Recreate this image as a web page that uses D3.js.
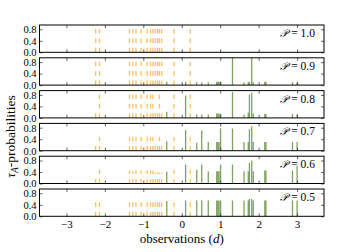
<!DOCTYPE html>
<html><head><meta charset="utf-8">
<script src="https://cdn.jsdelivr.net/npm/d3@7"></script>
<style>
html,body{margin:0;padding:0;background:#fff;}
svg{display:block;font-family:"Liberation Serif","DejaVu Serif",serif;}
</style></head>
<body><svg id="c" width="360" height="252"></svg>
<script>
// ---- data ----
const pValues = ["1.0", "0.9", "0.8", "0.7", "0.6", "0.5"];
const obsA = [-2.24, -2.14, -1.36, -1.27, -1.19, -1.06, -0.90, -0.81, -0.75, -0.69, -0.63, -0.58, -0.52, -0.20, 0.22];
const obsB = [-0.39, 0.10, 0.39, 0.52, 0.69, 0.91, 0.94, 0.97, 1.01, 1.32, 1.62, 1.73, 1.76, 1.82, 1.86, 2.16, 2.19, 2.88, 3.00];
const probA_10 = [0.95,0.95,0.95,0.95,0.95,0.95,0.95,0.95,0.95,0.95,0.95,0.95,0.95,0.95,0.95];
const probA_09 = [0.95,0.95,0.95,0.95,0.95,0.95,0.95,0.95,0.95,0.95,0.95,0.95,0.95,0.95,0.95];
const probA_08 = [0.20,0.90,0.85,0.85,0.85,0.85,0.85,0.85,0.85,0.30,0.30,0.85,0.20,0.85,0.90];
const probA_07 = [0.20,0.60,0.60,0.60,0.60,0.60,0.60,0.60,0.60,0.25,0.25,0.60,0.20,0.60,0.65];
const probA_06 = [0.33,0.50,0.45,0.42,0.45,0.45,0.45,0.45,0.45,0.38,0.38,0.38,0.38,0.50,0.50];
const probA_05 = [0.50,0.52,0.50,0.50,0.50,0.50,0.50,0.50,0.50,0.50,0.50,0.50,0.50,0.50,0.52];
const probB_10 = [0.02,0.01,0.01,0.01,0.01,0.01,0.01,0.01,0.01,0.01,0.01,0.01,0.01,0.01,0.01,0.01,0.01,0.01,0.01];
const probB_09 = [0.12,0.12,0.10,0.10,0.10,0.12,0.12,0.12,0.12,0.95,0.10,0.10,0.12,0.95,0.10,0.12,0.12,0.10,0.10];
const probB_08 = [0.21,0.78,0.12,0.12,0.12,0.15,0.15,0.15,0.15,0.90,0.12,0.18,0.82,0.88,0.15,0.14,0.14,0.14,0.14];
const probB_07 = [0.33,0.72,0.28,0.70,0.30,0.30,0.30,0.30,0.78,0.77,0.30,0.30,0.75,0.85,0.30,0.30,0.30,0.30,0.30];
const probB_06 = [0.42,0.66,0.48,0.66,0.43,0.43,0.43,0.43,0.66,0.66,0.43,0.43,0.72,0.80,0.43,0.45,0.45,0.45,0.62];
const probB_05 = [0.53,0.55,0.55,0.55,0.55,0.55,0.55,0.55,0.55,0.55,0.55,0.55,0.60,0.60,0.55,0.55,0.55,0.55,0.55];
const probA = [probA_10, probA_09, probA_08, probA_07, probA_06, probA_05];
const probB = [probB_10, probB_09, probB_08, probB_07, probB_06, probB_05];
const xTicks = [-3, -2, -1, 0, 1, 2, 3];
const yTicks = [0.0, 0.4, 0.8];

// ---- layout ----
const svg = d3.select("#c");
const left = 39.5, right = 324;
const top0 = 25, step = 32.8, ph = 27.3;
const x = d3.scaleLinear().domain([-3.7, 3.7]).range([left, right]);
const y = d3.scaleLinear().domain([0, 0.95]).range([ph, 0]);
const fmtX = d => d < 0 ? "\u2212" + Math.abs(d) : String(d);

pValues.forEach((p, i) => {
  const g = svg.append("g").attr("transform", `translate(0,${top0 + i * step})`);
  // green solid bars
  g.append("g").selectAll("line").data(obsB.map((v, j) => [v, probB[i][j]])).join("line")
    .attr("x1", d => x(d[0])).attr("x2", d => x(d[0]))
    .attr("y1", y(0)).attr("y2", d => y(d[1]))
    .attr("stroke", "#4a7a1c").attr("stroke-opacity", 0.7).attr("stroke-width", 1.3);
  // orange dashed bars
  g.append("g").selectAll("line").data(obsA.map((v, j) => [v, probA[i][j]])).join("line")
    .attr("x1", d => x(d[0])).attr("x2", d => x(d[0]))
    .attr("y1", y(0)).attr("y2", d => y(d[1]))
    .attr("stroke", "#ffa51f").attr("stroke-opacity", 0.7).attr("stroke-width", 1.3)
    .attr("stroke-dasharray", "4.6,4.8");
  // axes with inward ticks
  const ax = [
    g.append("g").attr("transform", `translate(0,${ph})`)
      .call(d3.axisBottom(x).tickValues(xTicks).tickSizeInner(-3).tickSizeOuter(0).tickPadding(4)
        .tickFormat(i === pValues.length - 1 ? fmtX : "")),
    g.append("g").call(d3.axisTop(x).tickValues(xTicks).tickSizeInner(-3).tickSizeOuter(0).tickFormat("")),
    g.append("g").attr("transform", `translate(${left},0)`)
      .call(d3.axisLeft(y).tickValues(yTicks).tickSizeInner(-3).tickSizeOuter(0).tickPadding(3)
        .tickFormat(d3.format(".1f"))),
    g.append("g").attr("transform", `translate(${right},0)`)
      .call(d3.axisRight(y).tickValues(yTicks).tickSizeInner(-3).tickSizeOuter(0).tickFormat(""))
  ];
  ax.forEach((a, k) => {
    a.select(".domain").remove();
    a.selectAll(".tick line").attr("stroke", "#222").attr("stroke-width", 0.7);
    a.selectAll("text").attr("font-family", "Liberation Serif, DejaVu Serif, serif")
      .attr("font-size", k === 2 ? 10.5 : 11).attr("fill", "#000");
  });
  g.append("rect").attr("x", left).attr("y", 0).attr("width", right - left).attr("height", ph)
    .attr("fill", "none").attr("stroke", "#000").attr("stroke-width", 1);
  // label
  const t = g.append("text").attr("x", 315).attr("y", 12).attr("text-anchor", "end")
    .attr("font-size", 11.5);
  t.append("tspan").attr("font-family", "DejaVu Serif, serif").attr("font-style", "italic").attr("font-size", 10.5).text("\u{1D4AB}");
  t.append("tspan").text(" = " + p);
});

// axis titles
svg.append("text").attr("x", 181.7).attr("y", 243).attr("text-anchor", "middle").attr("font-size", 13)
  .call(t => { t.append("tspan").text("observations ("); t.append("tspan").attr("font-style", "italic").text("d"); t.append("tspan").text(")"); });
const yl = svg.append("text").attr("transform", "translate(15,136.5) rotate(-90)").attr("text-anchor", "middle").attr("font-size", 13.5);
yl.append("tspan").attr("font-style", "italic").text("\u03C4");
yl.append("tspan").attr("font-size", 9.5).attr("font-style", "italic").attr("dy", 3).text("A");
yl.append("tspan").attr("dy", -3).text("-probabilities");
</script></body></html>
